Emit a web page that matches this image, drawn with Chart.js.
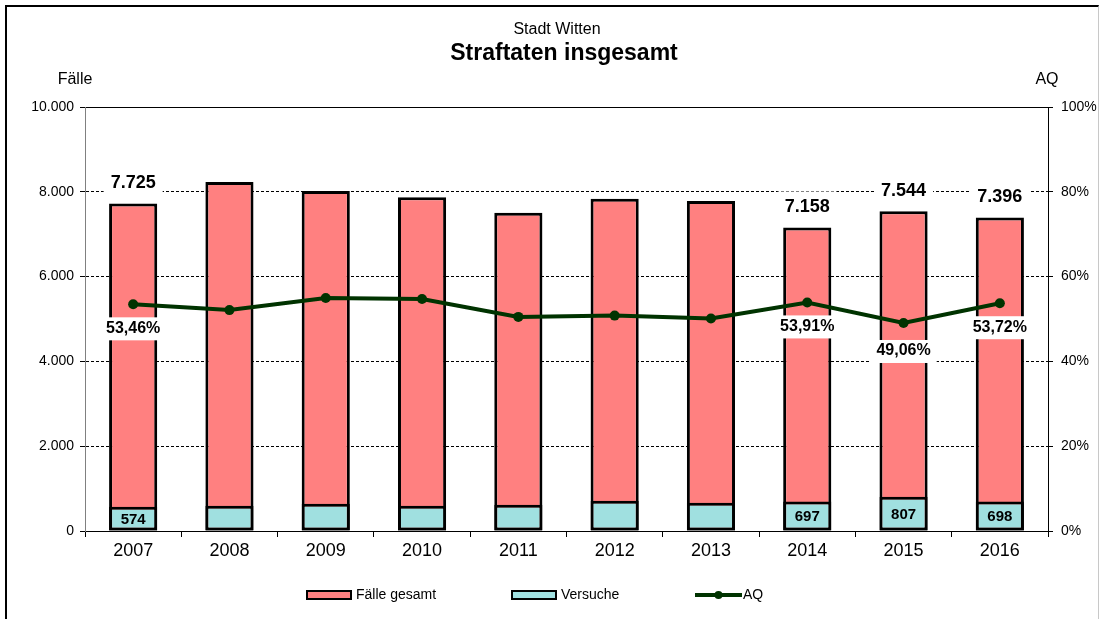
<!DOCTYPE html>
<html>
<head>
<meta charset="utf-8">
<script src="https://cdn.jsdelivr.net/npm/chart.js@4.4.1/dist/chart.umd.min.js"></script>
<style>
  html, body { margin: 0; padding: 0; background: #fff; }
  #wrap { position: relative; width: 1102px; height: 619px; overflow: hidden; }
  #frame { position: absolute; left: 5px; top: 5px; width: 1091px; height: 700px;
           border-left: 2px solid #000; border-top: 2px solid #000; border-right: 1px solid #c8c8c8; }
  #c { position: absolute; left: 0; top: 0; }
</style>
</head>
<body>
<div id="wrap">
  <div id="frame"></div>
  <canvas id="c" width="1102" height="619"></canvas>
</div>
<script>
const years = ['2007','2008','2009','2010','2011','2012','2013','2014','2015','2016'];
const faelleGesamt = [7725, 8230, 8020, 7870, 7505, 7835, 7785, 7158, 7544, 7396];
const versuche = [574, 597, 644, 597, 620, 715, 668, 697, 807, 698];
const aq = [53.46, 52.1, 54.95, 54.7, 50.5, 50.8, 50.1, 53.91, 49.06, 53.72];
const labelledIndices = [0, 7, 8, 9];
const leftTicks = [0, 2000, 4000, 6000, 8000, 10000];
const rightTicks = [0, 20, 40, 60, 80, 100];
const titleText = 'Stadt Witten';
const subtitleText = 'Straftaten insgesamt';
const leftAxisTitle = 'Fälle';
const rightAxisTitle = 'AQ';

const FONT = '"Liberation Sans", Arial, sans-serif';
function deInt(v) {
  const s = Math.round(v).toString();
  return s.replace(/\B(?=(\d{3})+(?!\d))/g, '.');
}
function dePct(v) { return v.toFixed(2).replace('.', ',') + '%'; }

const extras = {
  id: 'extras',
  afterDraw(chart) {
    const ctx = chart.ctx;
    ctx.save();
    ctx.fillStyle = '#000';
    ctx.textBaseline = 'middle';
    ctx.textAlign = 'center';
    ctx.font = '16px ' + FONT;
    ctx.fillText(titleText, 557, 30);
    ctx.font = 'bold 23px ' + FONT;
    ctx.fillText(subtitleText, 564, 54);
    ctx.font = '16px ' + FONT;
    ctx.fillText(leftAxisTitle, 75, 80);
    ctx.fillText(rightAxisTitle, 1047, 80);

    // legend
    const legendY = 595;
    const items = [
      { x: 307, type: 'box', ds: 0 },
      { x: 512, type: 'box', ds: 1 },
      { x: 695, type: 'line', ds: 2 }
    ];
    ctx.font = '14px ' + FONT;
    ctx.textAlign = 'left';
    items.forEach(it => {
      const ds = chart.data.datasets[it.ds];
      if (it.type === 'box') {
        ctx.fillStyle = ds.backgroundColor;
        ctx.fillRect(it.x, legendY - 4, 44, 8);
        ctx.lineWidth = 2;
        ctx.strokeStyle = '#000';
        ctx.strokeRect(it.x, legendY - 4, 44, 8);
      } else {
        ctx.strokeStyle = ds.borderColor;
        ctx.lineWidth = 4;
        ctx.beginPath();
        ctx.moveTo(it.x, legendY);
        ctx.lineTo(it.x + 47, legendY);
        ctx.stroke();
        ctx.fillStyle = ds.borderColor;
        ctx.beginPath();
        ctx.arc(it.x + 23.5, legendY, 4, 0, Math.PI * 2);
        ctx.fill();
      }
      ctx.fillStyle = '#000';
      ctx.fillText(ds.label, it.x + (it.type === 'box' ? 49 : 48), legendY);
    });

    // data labels
    const m0 = chart.getDatasetMeta(0);
    const m1 = chart.getDatasetMeta(1);
    const m2 = chart.getDatasetMeta(2);
    ctx.textAlign = 'center';
    labelledIndices.forEach(i => {
      const b0 = m0.data[i];
      ctx.font = 'bold 18px ' + FONT;
      let t = deInt(faelleGesamt[i]);
      let w = ctx.measureText(t).width;
      let cy = b0.y - 20;
      ctx.fillStyle = '#fff';
      ctx.fillRect(b0.x - w / 2 - 7, cy - 16, w + 14, 30);
      ctx.fillStyle = '#000';
      ctx.fillText(t, b0.x, cy);
      const b1 = m1.data[i];
      ctx.font = 'bold 15px ' + FONT;
      ctx.fillText(deInt(versuche[i]), b1.x, (b1.y + b1.base) / 2 + 1);
      const p = m2.data[i];
      ctx.font = 'bold 16px ' + FONT;
      t = dePct(aq[i]);
      w = ctx.measureText(t).width;
      cy = p.y + (i === 8 ? 28 : 24);
      ctx.fillStyle = '#fff';
      ctx.fillRect(p.x - w / 2 - 6, cy - 11, w + 12, 23);
      ctx.fillStyle = '#000';
      ctx.fillText(t, p.x, cy);
    });
    ctx.restore();
  }
};

new Chart(document.getElementById('c'), {
  type: 'bar',
  data: {
    labels: years,
    datasets: [
      { label: 'Fälle gesamt', data: faelleGesamt, backgroundColor: '#FF8080', borderColor: '#000',
        borderWidth: 3, borderSkipped: false, grouped: false, order: 3, yAxisID: 'y',
        barPercentage: 0.5, categoryPercentage: 1.0 },
      { label: 'Versuche', data: versuche, backgroundColor: '#A0E0E0', borderColor: '#000',
        borderWidth: 3, borderSkipped: false, grouped: false, order: 2, yAxisID: 'y',
        barPercentage: 0.5, categoryPercentage: 1.0 },
      { type: 'line', label: 'AQ', data: aq, borderColor: '#003300', backgroundColor: '#003300',
        borderWidth: 4, pointRadius: 5, pointHoverRadius: 5, pointBackgroundColor: '#003300',
        pointBorderWidth: 0, tension: 0, order: 1, yAxisID: 'y1' }
    ]
  },
  options: {
    responsive: false,
    animation: false,
    devicePixelRatio: 1,
    layout: { padding: { top: 107, left: 0, right: 0, bottom: 0 } },
    plugins: { legend: { display: false }, tooltip: { enabled: false }, title: { display: false } },
    scales: {
      x: {
        afterFit(s) { s.height = 88; },
        grid: { offset: true, drawOnChartArea: false, color: '#000', tickLength: 6, tickColor: '#000' },
        border: { color: '#000', width: 1 },
        ticks: { color: '#000', font: { family: FONT, size: 18 }, padding: 3 }
      },
      y: {
        position: 'left', min: 0, max: 10000,
        afterFit(s) { s.width = 85; },
        afterBuildTicks(s) { s.ticks = leftTicks.map(v => ({ value: v })); },
        grid: { color: '#000', lineWidth: 1, tickLength: 5, tickColor: '#000' },
        border: { color: '#808080', width: 1, dash: [3, 2] },
        ticks: { color: '#000', font: { family: FONT, size: 14 }, padding: 6,
                 callback: v => deInt(v) }
      },
      y1: {
        position: 'right', min: 0, max: 100,
        afterFit(s) { s.width = 54; },
        afterBuildTicks(s) { s.ticks = rightTicks.map(v => ({ value: v })); },
        grid: { color: ctx => (ctx.tick && ctx.tick.value === 100) ? '#000' : 'rgba(0,0,0,0)',
                lineWidth: 1, tickLength: 5, tickColor: '#000' },
        border: { color: '#000', width: 1 },
        ticks: { color: '#000', font: { family: FONT, size: 14 }, padding: 8,
                 callback: v => v + '%' }
      }
    }
  },
  plugins: [extras]
});
</script>
</body>
</html>
